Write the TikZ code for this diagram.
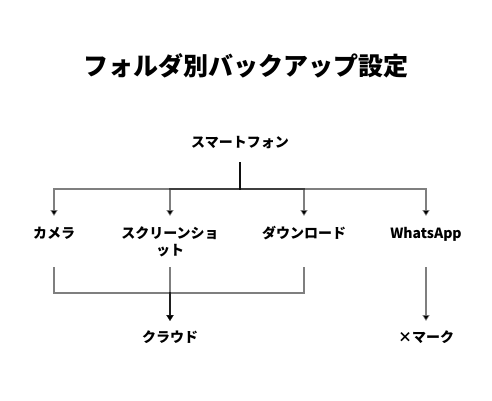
\documentclass[tikz,border=0pt]{standalone}
\usepackage{fontspec}
\setmainfont{Noto Sans CJK JP}
\usetikzlibrary{arrows.meta}
\begin{document}
\begin{tikzpicture}[x=1pt,y=-1pt,
  lbl/.style={font=\fontsize{14}{17}\selectfont\bfseries, inner sep=0pt, outer sep=0pt},
  child/.style={lbl, text height=22pt, text depth=29pt},
  edge/.style={draw=black, draw opacity=0.5, fill opacity=1, line width=1.5pt,
    -{Triangle[width=7pt,length=6pt,fill=black]}}]
\useasboundingbox (0,0) rectangle (492,400);
\node[font=\fontsize{25}{29}\selectfont\bfseries] (title) at (246,66) {フォルダ別バックアップ設定};
\node[lbl, text height=11pt, text depth=15pt, anchor=base] (phone) at (240,147) {スマートフォン};
\node[child, anchor=base] (cam) at (54,238) {カメラ};
\node[child, anchor=base] (scr) at (170,238) {\parbox[t]{120pt}{\centering スクリーンショ\\ット}};
\node[child, anchor=base] (dl) at (304,238) {ダウンロード};
\node[child, anchor=base] (wa) at (426,238) {WhatsApp};
\node[lbl, text height=21pt, text depth=1pt, anchor=base] (cloud) at (170,342) {クラウド};
\node[lbl, text height=21pt, text depth=1pt, anchor=base] (xm) at (426,342) {×マーク};
\coordinate (bus) at (0,189);
\coordinate (bus2) at (0,293);
\draw[edge] (phone.south) -- (phone.south |- bus) -| (cam.north);
\draw[edge] (phone.south) -- (phone.south |- bus) -| (scr.north);
\draw[edge] (phone.south) -- (phone.south |- bus) -| (dl.north);
\draw[edge] (phone.south) -- (phone.south |- bus) -| (wa.north);
\draw[edge] (cam.south) -- (cam.south |- bus2) -| (cloud.north);
\draw[edge] (scr.south) -- (cloud.north);
\draw[edge] (dl.south) -- (dl.south |- bus2) -| (cloud.north);
\draw[edge] (wa.south) -- (xm.north);
\end{tikzpicture}
\end{document}
